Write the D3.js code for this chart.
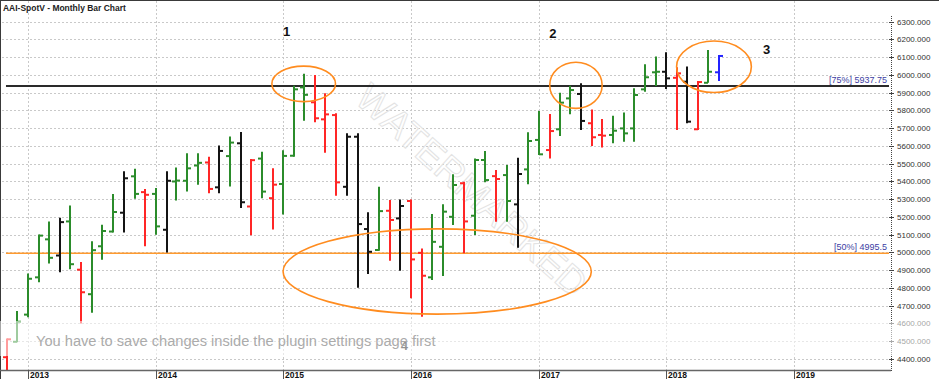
<!DOCTYPE html>
<html><head><meta charset="utf-8">
<script src="https://cdn.jsdelivr.net/npm/d3@7"></script>
<style>body{margin:0;background:#fff;overflow:hidden} svg{display:block}</style>
</head><body>
<svg id="c" width="939" height="379"></svg>
<script>
// ---------- DATA ----------
const months = ["2012-11","2012-12",
 "2013-01","2013-02","2013-03","2013-04","2013-05","2013-06","2013-07","2013-08","2013-09","2013-10","2013-11","2013-12",
 "2014-01","2014-02","2014-03","2014-04","2014-05","2014-06","2014-07","2014-08","2014-09","2014-10","2014-11","2014-12",
 "2015-01","2015-02","2015-03","2015-04","2015-05","2015-06","2015-07","2015-08","2015-09","2015-10","2015-11","2015-12",
 "2016-01","2016-02","2016-03","2016-04","2016-05","2016-06","2016-07","2016-08","2016-09","2016-10","2016-11","2016-12",
 "2017-01","2017-02","2017-03","2017-04","2017-05","2017-06","2017-07","2017-08","2017-09","2017-10","2017-11","2017-12",
 "2018-01","2018-02","2018-03","2018-04","2018-05","2018-06"];
const opens  = [4410,4497, 4650,4860,5074,4983,5175,4903,4765,5035,5118,5224,5429,5340, 5330,5128,5400,5404,5490,5507,5367,5543,5615,5259,5529,5306, 5386,5545,5930,5846,5750,5774,5370,5652,5132,5014,5235,5192, 5290,4998,4860,5032,5201,5390,5207,5521,5430,5436,5271,5468, 5634,5577,5694,5868,5893,5728,5662,5662,5699,5699,5919,6015, 6018,5984,5962,5694,5956,6015];
const highs  = [4515,4670, 4882,5102,5175,5196,5265,4947,5063,5156,5330,5457,5472,5358, 5363,5457,5479,5559,5559,5539,5602,5654,5679,5526,5567,5475, 5576,5939,6007,6000,5897,5784,5671,5671,5226,5370,5295,5299, 5299,5023,5217,5271,5440,5398,5530,5572,5464,5493,5534,5677, 5797,5780,5900,5939,5953,5806,5752,5770,5789,5925,6060,6104, 6128,6043,6047,5966,6140,6112];
const lows   = [4330,4494, 4635,4832,4938,4888,4906,4600,4660,4959,5112,5112,5302,5035, 5100,5000,5293,5343,5382,5334,5334,5371,5250,5097,5306,5130, 5214,5539,5742,5733,5562,5320,5320,4801,4879,5010,4953,4897, 4742,4638,4845,4867,5155,4995,5098,5395,5173,5173,5027,5384, 5549,5530,5656,5778,5690,5600,5592,5615,5624,5624,5906,5938, 5921,5690,5728,5690,5956,5966];
const closes = [4511,4610, 4852,5095,4970,5171,4934,4776,5013,5121,5228,5418,5330,5325, 5147,5404,5405,5474,5505,5358,5572,5619,5283,5520,5343,5382, 5544,5919,5888,5756,5778,5395,5652,5160,5004,5233,5183,5262, 4961,4869,5060,5230,5380,5175,5521,5408,5414,5290,5442,5628, 5553,5684,5844,5915,5741,5649,5658,5686,5671,5887,5987,6018, 5981,6009,5737,5960,6018,6107];
// bar classification: g = up bar, r = down bar, k = inside/outside bar, b = current bar
const barTypes = ["r","g", "g","g","g","k","g","r","g","g","g","k","g","r", "g","k","g","g","g","r","k","g","k","r","g","r", "g","g","g","r","r","r","k","k","k","g","r","k", "r","r","g","g","g","r","g","g","r","g","k","g", "g","r","g","g","k","r","r","g","g","g","g","g", "k","r","k","r","g","b"];
const yearTicks = ["2013","2014","2015","2016","2017","2018","2019"];
const priceTicks = [4400,4500,4600,4700,4800,4900,5000,5100,5200,5300,5400,5500,5600,5700,5800,5900,6000,6100,6200,6300];
const levelValues = [5937.75, 4995.5];
const levelLabels = ["[75%] 5937.75", "[50%] 4995.5"];
const ellipseCenters = ["2015-02-28","2017-04-17","2018-05-17","2016-03-16"];
const ellipseValues  = [5950, 5942, 6046, 4893];
const ellipseHalfDays = [91, 75, 107, 441];
const ellipseHalfValues = [100, 130, 145, 240];
const calloutTexts = ["1","2","3","4"];
const calloutDates = ["2015-01-10","2017-02-10","2018-10-15","2015-12-13"];
const calloutValues = [6221, 6206, 6118, 4450];
const titleText = "AAI-SpotV - Monthly Bar Chart";
const noticeText = "You have to save changes inside the plugin settings page first";

// ---------- STYLE ----------
const colors = {g:"#2b8c2b", r:"#ff2626", k:"#141414", b:"#2323ff"};
const W = 939, H = 379;
const plot = {left:1, right:889, top:1, bottom:370};

const svg = d3.select("#c");
const pm = d3.utcParse("%Y-%m");
const pd = d3.utcParse("%Y-%m-%d");
const py = d3.utcParse("%Y");

const x = d3.scaleUtc().domain([py("2013"), py("2019")]).range([28.3, 794]);
const y = d3.scaleLinear().domain([4400, 6300]).range([359, 21.7]);
const pxPerDay = (x(py("2019")) - x(py("2013"))) / ((py("2019") - py("2013")) / 864e5);

svg.append("rect").attr("width", W).attr("height", H).attr("fill", "#fff");

const defs = svg.append("defs");
defs.append("clipPath").attr("id", "clip").append("rect")
  .attr("x", plot.left).attr("y", plot.top)
  .attr("width", plot.right - plot.left).attr("height", plot.bottom - plot.top);

const gPlot = svg.append("g").attr("clip-path", "url(#clip)");

// horizontal grid
gPlot.append("g").selectAll("line").data(priceTicks).join("line")
  .attr("x1", 2).attr("x2", plot.right)
  .attr("y1", d => Math.round(y(d)) + 0.5).attr("y2", d => Math.round(y(d)) + 0.5)
  .attr("stroke", "#c9c9c9").attr("stroke-dasharray", "2,2");
// vertical grid
gPlot.append("g").selectAll("line").data(yearTicks).join("line")
  .attr("x1", d => Math.round(x(py(d))) + 0.5).attr("x2", d => Math.round(x(py(d))) + 0.5)
  .attr("y1", plot.top).attr("y2", plot.bottom)
  .attr("stroke", "#c9c9c9").attr("stroke-dasharray", "2,2");

// watermark
gPlot.append("text").text("WATERMARKED")
  .attr("transform", "translate(472,190) rotate(42)")
  .attr("text-anchor", "middle").attr("dy", "0.35em")
  .attr("font-family", "Liberation Sans, Arial, sans-serif").attr("font-size", 38)
  .attr("fill", "none").attr("stroke", "#e3e3e3").attr("stroke-width", 1);

// level lines
const lvlStart = x(pm(months[0])) - 1;
gPlot.append("line").attr("x1", lvlStart).attr("x2", plot.right)
  .attr("y1", y(levelValues[0])).attr("y2", y(levelValues[0]))
  .attr("stroke", "#2a2a2a").attr("stroke-width", 2);
gPlot.append("line").attr("x1", lvlStart).attr("x2", plot.right)
  .attr("y1", y(levelValues[1])).attr("y2", y(levelValues[1]))
  .attr("stroke", "#ff9a2e").attr("stroke-width", 1.6);

// bars
const bars = months.map((m, i) => ({date: pm(m), o: opens[i], h: highs[i], l: lows[i], c: closes[i], t: barTypes[i]}));
const gb = gPlot.append("g").attr("stroke-width", 2).attr("fill", "none");
bars.forEach(b => {
  const cx = Math.round(x(b.date));
  const col = colors[b.t];
  gb.append("line").attr("x1", cx).attr("x2", cx).attr("y1", y(b.h)).attr("y2", y(b.l)).attr("stroke", col);
  gb.append("line").attr("x1", cx - 4).attr("x2", cx).attr("y1", y(b.o)).attr("y2", y(b.o)).attr("stroke", col);
  gb.append("line").attr("x1", cx).attr("x2", cx + 4).attr("y1", y(b.c)).attr("y2", y(b.c)).attr("stroke", col);
});

// ellipses
gPlot.append("g").selectAll("ellipse").data(ellipseCenters).join("ellipse")
  .attr("cx", d => x(pd(d)))
  .attr("cy", (d, i) => y(ellipseValues[i]))
  .attr("rx", (d, i) => ellipseHalfDays[i] * pxPerDay)
  .attr("ry", (d, i) => y(ellipseValues[i] - ellipseHalfValues[i]) - y(ellipseValues[i]))
  .attr("fill", "none").attr("stroke", "#ff8c1f").attr("stroke-width", 1.6);

// callouts
svg.append("g").selectAll("text").data(calloutTexts).join("text")
  .text(d => d)
  .attr("x", (d, i) => x(pd(calloutDates[i])))
  .attr("y", (d, i) => y(calloutValues[i]))
  .attr("text-anchor", "middle")
  .attr("font-family", "Liberation Sans, Arial, sans-serif").attr("font-weight", "bold")
  .attr("font-size", 13).attr("fill", "#111");

// level labels
svg.append("g").selectAll("text").data(levelLabels).join("text")
  .text(d => d)
  .attr("x", 887).attr("y", (d, i) => y(levelValues[i]) - 3)
  .attr("text-anchor", "end")
  .attr("font-family", "Liberation Sans, Arial, sans-serif").attr("font-size", 9)
  .attr("fill", "#3d3da3");

// frame
svg.append("line").attr("x1", 0).attr("x2", W).attr("y1", 0.5).attr("y2", 0.5).attr("stroke", "#3a3a3a");
svg.append("line").attr("x1", 0.5).attr("x2", 0.5).attr("y1", 0).attr("y2", H).attr("stroke", "#3a3a3a");

// x axis
svg.append("line").attr("x1", 0).attr("x2", 891).attr("y1", 370.5).attr("y2", 370.5)
  .attr("stroke", "#666").attr("stroke-width", 1.5);
const gx = svg.append("g");
gx.selectAll("line").data(yearTicks).join("line")
  .attr("x1", d => Math.round(x(py(d))) + 0.5).attr("x2", d => Math.round(x(py(d))) + 0.5)
  .attr("y1", 370).attr("y2", H).attr("stroke", "#555");
gx.selectAll("text").data(yearTicks).join("text")
  .text(d => d)
  .attr("x", d => Math.round(x(py(d))) + 2).attr("y", 378)
  .attr("font-family", "Liberation Sans, Arial, sans-serif").attr("font-weight", "bold")
  .attr("font-size", 8.5).attr("fill", "#111");

// y axis
svg.append("line").attr("x1", 891.5).attr("x2", 891.5).attr("y1", 16).attr("y2", 372)
  .attr("stroke", "#444").attr("stroke-dasharray", "1,1");
const gy = svg.append("g");
gy.selectAll("line").data(priceTicks).join("line")
  .attr("x1", 889).attr("x2", 894)
  .attr("y1", d => Math.round(y(d)) + 0.5).attr("y2", d => Math.round(y(d)) + 0.5)
  .attr("stroke", "#444");
gy.selectAll("text").data(priceTicks).join("text")
  .text(d => d3.format(".3f")(d))
  .attr("x", 897).attr("y", d => y(d)).attr("dy", "0.35em")
  .attr("font-family", "Liberation Sans, Arial, sans-serif").attr("font-size", 8)
  .attr("fill", "#333");

// title
const title = svg.append("text").text(titleText)
  .attr("x", 3).attr("y", 11)
  .attr("font-family", "Liberation Sans, Arial, sans-serif").attr("font-weight", "bold")
  .attr("font-size", 9).attr("fill", "#222");
function fit(sel, target, base) {
  const w = sel.node().getComputedTextLength();
  if (w > 0) sel.attr("font-size", base * target / w);
}
fit(title, 123, 9);

// plugin notice overlay
svg.append("rect").attr("x", 0).attr("y", 321).attr("width", W).attr("height", 35)
  .attr("fill", "#fff").attr("opacity", 0.55);
const notice = svg.append("text").text(noticeText)
  .attr("x", 36).attr("y", 345.7)
  .attr("font-family", "Liberation Sans, Arial, sans-serif")
  .attr("font-size", 16).attr("fill", "#ababab");
fit(notice, 400, 16);
</script>
</body></html>
